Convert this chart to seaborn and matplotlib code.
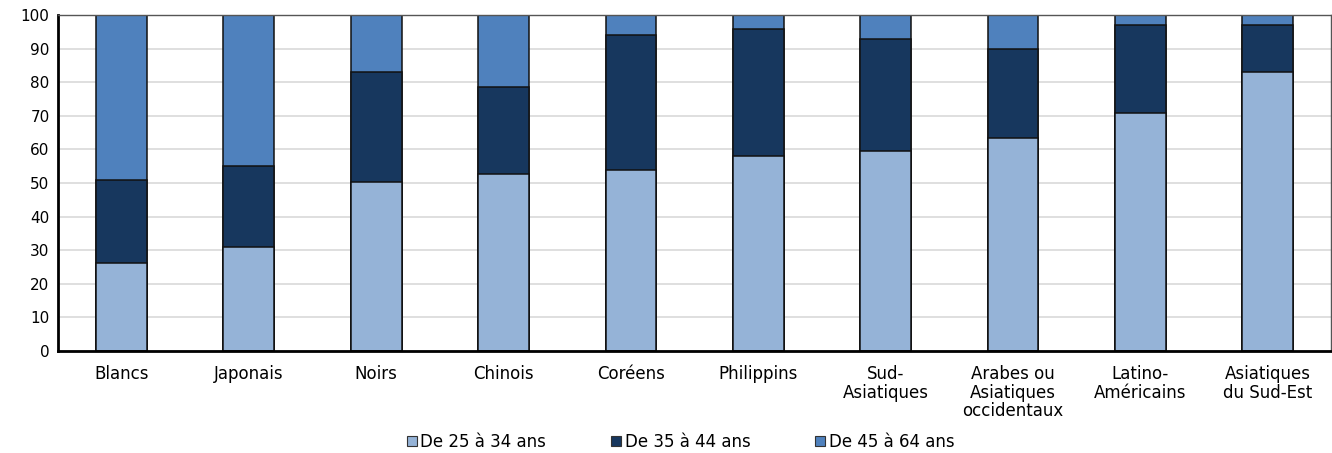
import numpy as np
import pandas as pd
import matplotlib
matplotlib.use('Agg')
import matplotlib.pyplot as plt
import seaborn as sns
from matplotlib.patches import Patch

categories = ['Blancs', 'Japonais', 'Noirs', 'Chinois', 'Coréens', 'Philippins',
              'Sud-\nAsiatiques', 'Arabes ou\nAsiatiques\noccidentaux',
              'Latino-\nAméricains', 'Asiatiques\ndu Sud-Est']
age_25_34 = [26.2, 31.0, 50.2, 52.8, 54.0, 58.0, 59.6, 63.3, 70.9, 82.9]
age_35_44 = [24.6, 24.1, 32.9, 25.8, 40.0, 37.8, 33.3, 26.6, 26.2, 14.2]
age_45_64 = [49.2, 44.9, 16.9, 21.4, 6.0, 4.2, 7.1, 10.1, 2.9, 2.9]
series_names = ['De 25 à 34 ans', 'De 35 à 44 ans', 'De 45 à 64 ans']
colors = ['#95B3D7', '#17375E', '#4F81BD']

df = pd.DataFrame({'cat': categories, 'a': age_25_34, 'b': age_35_44, 'c': age_45_64})
df['cum_a'] = df['a']
df['cum_b'] = df['a'] + df['b']
df['cum_c'] = df['a'] + df['b'] + df['c']

sns.set_style('white')
plt.rcParams['font.family'] = ['DejaVu Sans']
plt.rcParams['text.color'] = '#000000'
plt.rcParams['xtick.color'] = '#000000'
plt.rcParams['ytick.color'] = '#000000'

fig = plt.figure(figsize=(13.32, 4.53), dpi=100)
ax = fig.add_axes([0.0435, 0.225, 0.956, 0.742])

# stacked bars drawn as overlapping cumulative layers, top layer first
for col, c in zip(['cum_c', 'cum_b', 'cum_a'], colors[::-1]):
    sns.barplot(data=df, x='cat', y=col, color=c, width=0.4, ax=ax,
                edgecolor='#111111', linewidth=1.1, saturation=1)

ax.set_ylim(0, 100)
ax.set_xlim(-0.5, len(categories) - 0.5)
ax.set_yticks(np.arange(0, 101, 10))
ax.yaxis.grid(True, color='#D9D9D9', linewidth=1.2)
ax.set_axisbelow(True)
ax.set_xlabel('')
ax.set_ylabel('')
ax.tick_params(axis='y', length=0, labelsize=11, pad=6)
ax.tick_params(axis='x', length=0, labelsize=12, pad=10)
for lbl in ax.get_xticklabels():
    lbl.set_linespacing(1.05)

# boundary ticks between categories
ax.set_xticks(np.arange(0.5, len(categories) - 0.5, 1), minor=True)
ax.tick_params(axis='x', which='minor', direction='in', length=5, width=1, color='#111111')

for s in ['left', 'bottom']:
    ax.spines[s].set_color('#000000')
    ax.spines[s].set_linewidth(2)
for s in ['top', 'right']:
    ax.spines[s].set_color('#555555')
    ax.spines[s].set_linewidth(1)

handles = [Patch(facecolor=c, edgecolor='#333333', linewidth=0.8) for c in colors]
fig.legend(handles, series_names, loc='center', bbox_to_anchor=(0.511, 0.025),
           ncol=3, frameon=False, fontsize=12, handlelength=0.6, handleheight=0.6,
           handletextpad=0.2, columnspacing=3.9)

fig.savefig('out.png', dpi=100)
